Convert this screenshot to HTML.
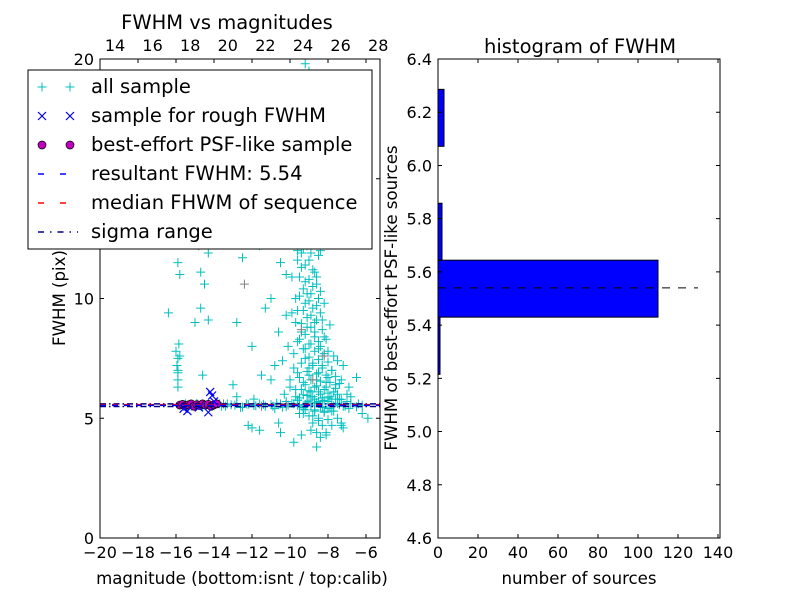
<!DOCTYPE html>
<html><head><meta charset="utf-8"><style>
body{margin:0;background:#fff}
svg text{font-family:"DejaVu Sans","Liberation Sans",sans-serif;fill:#000}
</style></head><body>
<svg id="c" width="800" height="600" xmlns="http://www.w3.org/2000/svg"></svg>
<script>
// ---- data: left scatter ----
const magAll=[-9.2,-9.5,-9.0,-9.4,-8.9,-9.6,-9.1,-8.8,-9.3,-9.7,-8.9,-9.2,-8.7,-9.5,-9.0,-8.6,-9.8,-9.3,-8.8,-9.1,-9.6,-8.5,-9.0,-9.4,-8.7,-9.9,-9.2,-8.8,-8.4,-9.5,-9.0,-8.6,-9.3,-8.9,-8.3,-9.7,-9.1,-8.7,-8.2,-9.5,-9.0,-8.5,-8.0,-9.8,-9.2,-8.8,-8.3,-7.8,-9.6,-9.0,-8.6,-8.1,-7.6,-10.0,-9.4,-8.9,-8.4,-7.9,-9.7,-8.7,-8.2,-8.8,-9.3,-8.5,-7.8,-8.9,-8.4,-8.6,-7.5,-7.2,
-8.9,-9.4,-8.6,-9.1,-8.7,-9.4,-8.5,-9.2,-8.3,-9.0,-8.5,-8.0,-9.3,-8.7,-8.2,-7.7,-9.1,-8.0,-7.4,-7.0,-10.3,-9.8,-10.1,-9.9,-10.2,-10.0,-9.9,-10.0,-9.7,-9.0,-8.4,-8.2,-7.9,-7.5,-7.3,-6.8,-6.5,-6.2,-5.9,
-10.5,-11.0,-10.8,-11.5,-12.0,-12.5,-11.8,-13.2,-12.8,-11.3,-11.6,-13.0,-11.0,-12.2,-11.6,-12.8,-10.5,-9.8,-11.9,
-15.9,-15.9,-15.9,-15.95,-15.9,-16.0,-15.85,-15.9,-15.8,-16.4,-15.9,-15.8,-14.7,-14.5,-14.3,-14.7,-14.3,-15.0,-14.6,
-15.8,-15.5,-15.2,-14.9,-14.6,-14.3,-14.0,-13.7,-13.4,-13.1,-12.8,-12.5,-12.2,-11.9,-11.6,-11.3,-11.0,-10.7,-10.4,-10.1,-9.8,-9.5,-9.2,-8.9,-8.6,-8.3,-8.0,-7.7,-7.4,-7.1,-6.8,-6.5,-6.2,-12.0,-10.6,-9.4,-8.1,-7.3,
-10.2,-9.6,-9.1,-8.3,-7.6,-7.0,-6.4,-10.8,-9.3,-8.7,-8.0,-7.8,-9.5,-8.9,-8.2,
-9.8,-9.3,-9.7,-9.2,-9.9,-9.4,-9.0,-9.6,-9.3,-9.8,-9.4,-9.0,
-9.6,-9.2,-9.9,-9.4,-9.0,-9.7,-9.3,-8.9,-9.6,-9.2,-8.8,-9.5,-9.0,-8.6,-9.3,-8.9,-9.7,-8.5,
-9.2,-8.8,-9.6,-8.4,-9.1,-8.6,-9.4,-8.9,-8.3,-9.2,-8.7,-8.1,-9.6,-8.9,-8.4,
-9.3,-8.7,-8.2,-7.7,-9.0,-8.5,-8.0,-9.4,-8.8,-8.3,-7.8,-9.1,-8.6,-8.1,-7.6,-9.5,-8.9,-8.4,-7.9,-7.4,-9.2,-8.6,-8.1,-7.6,-9.7,-9.0,-8.5,-8.0,-7.5,-9.3,-8.8,-8.3,-7.8,-7.3,-9.6,-9.0,-8.5,-8.0,-10.0,-10.4,-10.6,-10.2,-7.2,-6.9,
-9.2,-8.7,-8.2,-7.7,-9.0,-8.5,-8.0,-8.8,-8.3,-8.6,-8.1,-7.3,-9.5,
-13.6,-13.3,-12.9,-12.6,-12.3,-11.8,-11.4,-10.9,-10.5,-10.2,-9.9,-9.6,-9.3,-8.7,-8.4,-7.9,-7.5,-7.2,-6.9];
const fwhmAll=[19.8,19.2,18.5,18.0,17.4,17.0,16.5,16.0,15.6,15.2,14.9,14.5,14.2,13.9,13.6,13.3,13.0,12.8,12.5,12.2,12.0,11.8,11.6,11.3,11.1,10.9,10.7,10.5,10.3,10.1,9.9,9.7,9.5,9.3,9.1,9.0,8.8,8.6,8.4,8.3,8.1,7.9,7.8,7.7,7.5,7.3,7.2,7.0,6.9,6.8,6.6,6.5,6.4,6.3,6.2,6.1,6.0,5.9,5.9,5.8,5.3,5.1,5.2,4.9,4.7,4.5,4.2,3.8,5.0,4.6,
12.9,11.9,10.9,10.2,9.0,8.6,8.2,7.9,7.6,7.1,6.9,6.7,6.5,6.3,6.2,6.1,5.95,5.85,5.8,6.0,6.0,7.1,8.0,9.4,11.0,12.4,14.0,16.4,18.6,19.5,12.0,9.8,8.9,7.4,6.6,5.9,6.7,5.2,5.0,
11.5,10.0,7.2,6.8,8.0,11.7,13.0,12.6,9.0,9.6,12.2,6.4,6.6,4.7,4.5,5.9,4.4,4.0,5.8,
6.3,6.6,6.9,7.2,7.5,7.8,8.1,11.5,11.0,9.4,7.0,7.6,11.1,10.6,11.9,9.6,9.1,9.0,6.8,
5.55,5.6,5.5,5.62,5.48,5.58,5.52,5.6,5.5,5.56,5.62,5.47,5.58,5.53,5.6,5.5,5.57,5.63,5.46,5.55,5.6,5.5,5.58,5.52,5.65,5.45,5.6,5.52,5.57,5.5,5.62,5.48,5.55,4.6,4.8,4.3,4.4,4.7,
5.7,5.75,5.68,5.72,5.8,5.7,5.6,5.4,5.38,5.35,5.4,5.3,5.85,5.9,5.75,
19.0,18.2,17.6,17.2,16.7,16.2,15.8,15.4,15.0,14.6,14.3,14.0,
13.8,13.4,13.2,12.9,12.6,12.3,12.1,11.9,11.6,11.4,11.2,10.9,10.8,10.6,10.4,10.2,10.0,10.0,
9.8,9.6,9.5,9.4,9.2,9.1,8.95,8.8,8.7,8.5,8.4,8.3,8.2,8.1,8.0,
7.9,7.8,7.7,7.6,7.55,7.45,7.35,7.3,7.2,7.1,7.0,6.95,6.85,6.8,6.75,6.7,6.6,6.55,6.5,6.45,6.4,6.35,6.3,6.25,6.2,6.15,6.1,6.05,6.0,5.98,5.9,5.85,5.8,5.78,5.75,5.72,5.7,5.7,6.6,7.4,8.6,9.3,7.2,6.3,
5.35,5.3,5.25,5.3,5.1,5.0,4.95,4.8,4.7,4.4,4.3,4.8,5.2,
5.5,5.6,5.55,5.45,5.6,5.52,5.58,5.5,5.6,5.48,5.62,5.55,5.45,5.6,5.5,5.42,5.62,5.5,5.4];
const magGray=[-15.6,-13.5,-11.5,-10.2,-9.4,-8.8,-12.4,-14.8,-9.9,-8.2];
const fwhmGray=[5.5,5.6,5.5,5.6,8.7,6.6,10.6,12.2,13.6,7.6];
const magRough=[-14.2,-14.1,-14.3,-15.4,-14.0,-15.6,-14.8];
const fwhmRough=[6.1,5.95,5.25,5.3,5.7,5.4,5.45];
const magBest=[-15.8,-15.65,-15.5,-15.35,-15.2,-15.05,-14.9,-14.75,-14.6,-14.45,-14.3,-14.15,-14.0,-13.85];
const fwhmBest=[5.55,5.58,5.52,5.56,5.6,5.5,5.57,5.53,5.6,5.55,5.58,5.5,5.56,5.6];
const resultFwhm=5.54, medianFwhm=5.57, sigmaLo=5.49, sigmaHi=5.6;
const xTicksBottom=[-20,-18,-16,-14,-12,-10,-8,-6];
const xTicksTop=[14,16,18,20,22,24,26,28];
const yTicksLeft=[0,5,10,15,20];
// ---- data: histogram ----
const binEdges=[5.215,5.43,5.644,5.858,6.072,6.286];
const binCounts=[1,110,2,0,3];
const yTicksRight=[4.6,4.8,5.0,5.2,5.4,5.6,5.8,6.0,6.2,6.4];
const xTicksRight=[0,20,40,60,80,100,120,140];

const S=document.getElementById('c'),NS='http://www.w3.org/2000/svg';
function el(t,a,p){const e=document.createElementNS(NS,t);for(const k in a)e.setAttribute(k,a[k]);(p||S).appendChild(e);return e;}
function txt(x,y,s,size,anchor,p){const e=el('text',{x:x,y:y,'font-size':size,'text-anchor':anchor||'middle'},p);e.textContent=s;return e;}

const L={x0:100,x1:380,y0:538,y1:59};
const xs=m=>L.x0+(m+20)*19, ys=f=>L.y0-f*23.95;
const xTop=v=>115+(v-14)*18.8;
const R={x0:438,x1:720,y0:538,y1:59};
const hx=v=>R.x0+v*2, hy=v=>R.y0-(v-4.6)*266.1;

const gL=el('g',{});
const clip=el('clipPath',{id:'cl'},el('defs',{}));el('rect',{x:L.x0,y:L.y1,width:L.x1-L.x0,height:L.y0-L.y1},clip);
const pts=el('g',{'clip-path':'url(#cl)'},gL);
function plus(x,y,c,p){const g=el('path',{d:`M${x-4.5},${y}h9M${x},${y-4.5}v9`,stroke:c,'stroke-width':1,fill:'none'},p);return g;}
for(let i=0;i<magAll.length;i++){const e=plus(xs(magAll[i]),ys(fwhmAll[i]),'#00bfbf',pts);

}
for(let i=0;i<magGray.length;i++){const e=plus(xs(magGray[i]),ys(fwhmGray[i]),'#808080',pts);

}
for(let i=0;i<magBest.length;i++){const e=el('circle',{cx:xs(magBest[i]),cy:ys(fwhmBest[i]),r:4,fill:'#bf00bf',stroke:'#000','stroke-width':0.7},pts);

}
for(let i=0;i<magRough.length;i++){const x=xs(magRough[i]),y=ys(fwhmRough[i]);const e=el('path',{d:`M${x-4},${y-4}l8,8M${x-4},${y+4}l8,-8`,stroke:'#0000ff','stroke-width':1.2,fill:'none'},pts);

}
function hline(v,c,dash,name){const e=el('line',{x1:L.x0,x2:L.x1,y1:ys(v),y2:ys(v),stroke:c,'stroke-width':1.5,'stroke-dasharray':dash},pts);

}
hline(sigmaLo,'#000080','6,3,1.5,3','sigma-low-line');hline(sigmaHi,'#000080','6,3,1.5,3','sigma-high-line');
hline(medianFwhm,'#ff0000','6,6','median-line');hline(resultFwhm,'#0000ff','6,6','result-line');
el('rect',{x:L.x0,y:L.y1,width:L.x1-L.x0,height:L.y0-L.y1,fill:'none',stroke:'#000','stroke-width':1},gL);
xTicksBottom.forEach(v=>{const x=xs(v);el('path',{d:`M${x},${L.y0}v-4M${x},${L.y1}v4`,stroke:'#000'},gL);txt(x,558,String(v).replace('-','\u2212'),16,'middle',gL);});
xTicksTop.forEach(v=>{const x=xTop(v);txt(x,51,v,16,'middle',gL);});
yTicksLeft.forEach(v=>{const y=ys(v);el('path',{d:`M${L.x0},${y}h4M${L.x1},${y}h-4`,stroke:'#000'},gL);txt(94,y+6,v,16,'end',gL);});
txt(227,29,'FWHM vs magnitudes',19.5,'middle',gL);
txt(242,584,'magnitude (bottom:isnt / top:calib)',16.6,'middle',gL);
const yl=txt(0,0,'FWHM (pix)',16.6,'middle',gL);yl.setAttribute('transform','translate(65,298) rotate(-90)');

const lg=el('g',{});
el('rect',{x:28,y:70,width:344,height:179,fill:'#fff',stroke:'#000','stroke-width':1},lg);
const rows=['all sample','sample for rough FWHM','best-effort PSF-like sample','resultant FWHM: 5.54','median FHWM of sequence','sigma range'];
rows.forEach((r,i)=>{const y=87+i*29;
if(i==0){plus(42,y,'#00bfbf',lg);plus(70,y,'#00bfbf',lg);}
if(i==1){[42,70].forEach(x=>el('path',{d:`M${x-4},${y-4}l8,8M${x-4},${y+4}l8,-8`,stroke:'#0000ff','stroke-width':1.2},lg));}
if(i==2){[42,70].forEach(x=>el('circle',{cx:x,cy:y,r:4,fill:'#bf00bf',stroke:'#000','stroke-width':0.7},lg));}
if(i==3)el('line',{x1:38,x2:78,y1:y,y2:y,stroke:'#0000ff','stroke-width':1.5,'stroke-dasharray':'6,16'},lg);
if(i==4)el('line',{x1:38,x2:78,y1:y,y2:y,stroke:'#ff0000','stroke-width':1.5,'stroke-dasharray':'6,16'},lg);
if(i==5)el('line',{x1:38,x2:78,y1:y,y2:y,stroke:'#000080','stroke-width':1.5,'stroke-dasharray':'6,6,1.5,6'},lg);
const t=txt(91,y+6,r,19.5,'start',lg);});

const gR=el('g',{});
binCounts.forEach((c,i)=>{if(c<=0)return;const y1=hy(binEdges[i+1]),y2=hy(binEdges[i]);
const e=el('rect',{x:hx(0),y:y1,width:hx(c)-hx(0),height:y2-y1,fill:'#0000ff',stroke:'#000','stroke-width':1},gR);

});
const rl=el('line',{x1:hx(0),x2:hx(130),y1:hy(resultFwhm),y2:hy(resultFwhm),stroke:'#000','stroke-width':1,'stroke-dasharray':'8,8'},gR);


el('rect',{x:R.x0,y:R.y1,width:R.x1-R.x0,height:R.y0-R.y1,fill:'none',stroke:'#000','stroke-width':1},gR);
xTicksRight.forEach(v=>{const x=hx(v);el('path',{d:`M${x},${R.y0}v-4M${x},${R.y1}v4`,stroke:'#000'},gR);txt(x,558,v,16,'middle',gR);});
yTicksRight.forEach(v=>{const y=hy(v);el('path',{d:`M${R.x0},${y}h4M${R.x1},${y}h-4`,stroke:'#000'},gR);txt(432,y+6,v.toFixed(1),16,'end',gR);});
txt(580,53,'histogram of FWHM',19.5,'middle',gR);
txt(579,584,'number of sources',16.6,'middle',gR);
const yr=txt(0,0,'FWHM of best-effort PSF-like sources',16.6,'middle',gR);yr.setAttribute('transform','translate(397,298) rotate(-90)');
</script>
</body></html>
